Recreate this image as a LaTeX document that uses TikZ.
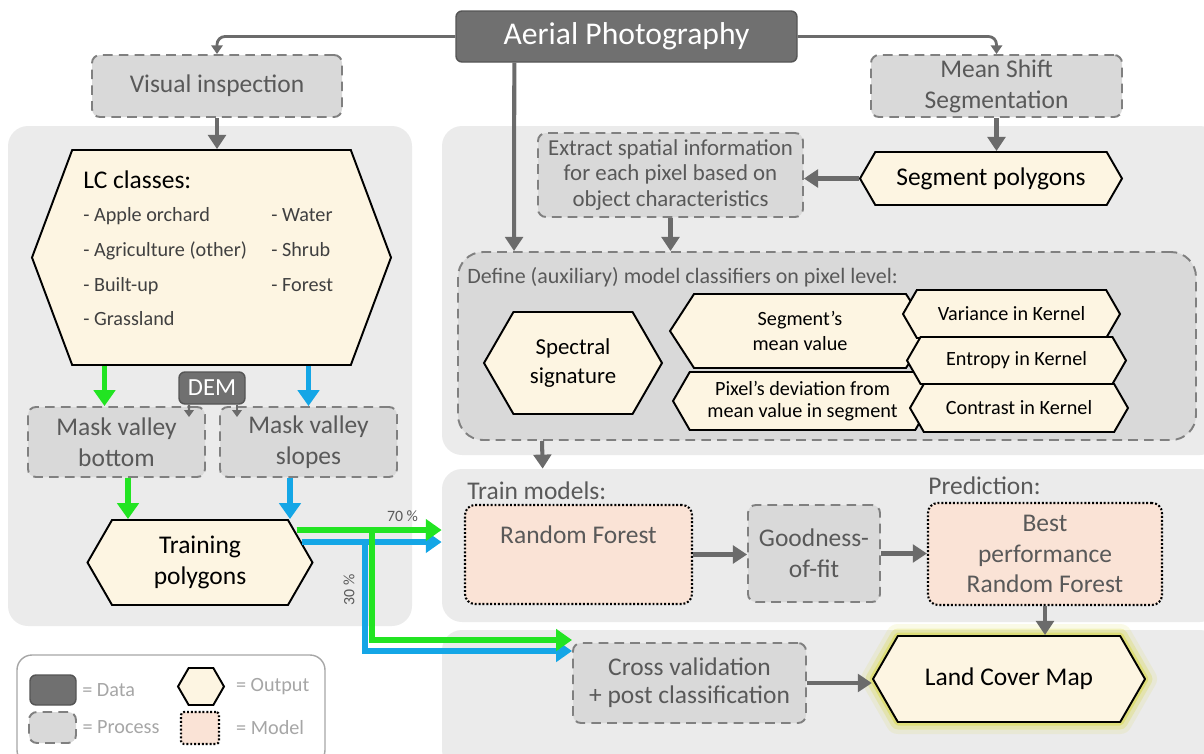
\documentclass[tikz,border=0pt]{standalone}
\usepackage{fontspec}
\setmainfont{Carlito}
\usepackage{xcolor}
\definecolor{colorPanel}{HTML}{EBEBEB}
\definecolor{colorProcess}{HTML}{D9D9D9}
\definecolor{colorProcessLine}{HTML}{808080}
\definecolor{colorData}{HTML}{707070}
\definecolor{colorDataLine}{HTML}{555555}
\definecolor{colorOutput}{HTML}{FDF5E2}
\definecolor{colorModel}{HTML}{FAE3D6}
\definecolor{colorArrow}{HTML}{6B6B6B}
\definecolor{colorText}{HTML}{595959}
\definecolor{colorItem}{HTML}{404040}
\definecolor{colorLegend}{HTML}{A6A6A6}
\definecolor{colorGreen}{RGB}{34,228,34}
\definecolor{colorBlue}{RGB}{20,166,230}
\definecolor{colorGlow}{HTML}{D8D83A}
\usepackage{tikz}
\usetikzlibrary{arrows.meta, shapes.symbols, positioning}
\newdimen\pxu \pxu=0.02cm
\tikzset{
  wh/.style 2 args={minimum width=#1\pxu, minimum height=#2\pxu},
  panel/.style={fill=colorPanel, rounded corners=20\pxu, inner sep=0pt},
  procbox/.style={draw=colorProcessLine, fill=colorProcess, dash pattern=on 5.5pt off 3.5pt, line width=1.1pt, rounded corners=8\pxu, text=colorText, align=center, inner sep=0pt, font=\fontsize{14.5}{17.5}\selectfont},
  databox/.style={draw=colorDataLine, fill=colorData, line width=0.8pt, rounded corners=6\pxu, text=white, align=center, inner sep=0pt},
  outhex/.style={signal, signal to=east and west, signal pointer angle=120, draw=black, line width=1.1pt, fill=colorOutput, align=center, inner sep=0pt, font=\fontsize{14.5}{17.5}\selectfont},
  modelbox/.style={draw=black, dash pattern=on 1.1pt off 1.1pt, line width=1.2pt, fill=colorModel, rounded corners=10\pxu, text=colorText, align=center, inner sep=0pt, font=\fontsize{14.5}{17.5}\selectfont},
  glow/.style={line join=round, preaction={draw=colorGlow, line width=24\pxu, opacity=0.12}, preaction={draw=colorGlow, line width=15\pxu, opacity=0.25}, preaction={draw=colorGlow, line width=7\pxu, opacity=0.45}},
  legtext/.style={text=colorLegend, inner sep=1pt, font=\fontsize{11.5}{14}\selectfont},
  flow/.style={draw=colorArrow, line width=2.3pt, -{Triangle[length=8pt, width=10pt]}},
  thinflow/.style={draw=colorArrow, line width=1.6pt, rounded corners=8\pxu, -{Triangle[length=5pt, width=6.5pt]}},
  demflow/.style={draw=colorArrow, line width=1.2pt, -{Triangle[length=4pt, width=5.5pt]}},
  gflow/.style={draw=colorGreen, line width=3.4pt, -{Triangle[length=9pt, width=12pt]}},
  bflow/.style={draw=colorBlue, line width=3.4pt, -{Triangle[length=9pt, width=12pt]}},
  pct/.style={text=colorText, inner sep=1pt, font=\fontsize{9}{10}\selectfont},
}

\begin{document}
\begin{tikzpicture}[x=0.02cm, y=-0.02cm]
\useasboundingbox (0,0) rectangle (1204,754);
\clip (0,0) rectangle (1204,754);
% background panels
\node[panel, wh={404}{500}] (panelL) at (210,376) {};
\node[panel, wh={778}{329}] (panelA) at (831,290.5) {};
\node[panel, wh={778}{153}] (panelB) at (831,545.5) {};
\node[panel, wh={778}{140}] (panelC) at (831,700) {};

% top row
\node[databox, wh={341}{51}, font=\fontsize{18}{21}\selectfont] (aerial) at (626.5,36.5) {Aerial Photography};
\node[procbox, wh={250}{62}] (visual) at (217,86) {Visual inspection};
\node[procbox, wh={251}{62}] (meanshift) at (996.5,86) {Mean Shift\\Segmentation};

% left column
\node[outhex, signal pointer angle=139, wh={359}{215}] (lcclasses) at (211.5,257.5) {};
\node[anchor=north west, inner sep=0pt, text=colorItem, font=\fontsize{11.5}{14}\selectfont] (lctext) at (83,170) {%
\begin{tabular}{@{}p{188\pxu}@{}l@{}}
\multicolumn{2}{@{}l}{\fontsize{14.5}{17}\selectfont\color{black}LC classes:}\\[5pt]
- Apple orchard & - Water\\[5.8pt]
- Agriculture (other) & - Shrub\\[5.8pt]
- Built-up & - Forest\\[5.8pt]
- Grassland &
\end{tabular}};
\node[databox, wh={66}{32}, font=\fontsize{14}{16}\selectfont] (dem) at (212,388) {DEM};
\node[procbox, wh={177}{70}] (maskbottom) at (116.5,442) {Mask valley\\bottom};
\node[procbox, wh={177}{70}] (maskslopes) at (308.5,442) {Mask valley\\slopes};
\node[outhex, wh={225}{85}] (training) at (200,562.5) {Training\\polygons};

% classifier panel
\node[procbox, wh={265}{84}, font=\fontsize{13}{14.3}\selectfont] (extract) at (670.5,175) {Extract spatial information\\for each pixel based on\\object characteristics};
\node[outhex, wh={262}{53}] (segpoly) at (991,178.5) {Segment polygons};
\node[procbox, wh={738}{188}, rounded corners=25\pxu] (define) at (827,346) {};
\node[anchor=base west, inner sep=0pt, text=colorText, font=\fontsize{12.5}{15}\selectfont] (definetext) at (467,283) {Define (auxiliary) model classifiers on pixel level:};
\node[outhex, wh={178}{102}, font=\fontsize{13}{17}\selectfont] (spectral) at (573,363) {Spectral\\signature};
\node[outhex, signal pointer angle=114, wh={260}{74}, font=\fontsize{11.5}{14}\selectfont] (segmean) at (800,331) {Segment’s\\mean value};
\node[outhex, wh={259}{58}, font=\fontsize{11.5}{12.5}\selectfont] (pixdev) at (802.5,401) {Pixel’s deviation from\\mean value in segment};
\node[outhex, wh={217}{48}, font=\fontsize{11.5}{14}\selectfont] (variance) at (1011.5,314) {Variance in Kernel};
\node[outhex, wh={219}{47}, font=\fontsize{11.5}{14}\selectfont] (entropy) at (1016.5,360.5) {Entropy in Kernel};
\node[outhex, wh={218}{48}, font=\fontsize{11.5}{14}\selectfont] (contrast) at (1019,408) {Contrast in Kernel};

% models
\node[anchor=base west, inner sep=0pt, text=colorText, font=\fontsize{14.5}{17}\selectfont] (trainlabel) at (467,499) {Train models:};
\node[anchor=base west, inner sep=0pt, text=colorText, font=\fontsize{14.5}{17}\selectfont] (predlabel) at (928,494) {Prediction:};
\node[modelbox, wh={227}{99}] (randomforest) at (578.5,554.5) {Random Forest\\\strut};
\node[procbox, wh={132}{97}] (goodness) at (814,553.5) {Goodness-\\of-fit};
\node[modelbox, wh={234}{102}] (bestperf) at (1045,554) {Best\\performance\\Random Forest};

% result
\node[procbox, wh={233}{80}, font=\fontsize{14.5}{16}\selectfont] (crossval) at (689.5,683) {Cross validation\\+ post classification};
\node[outhex, glow, wh={272}{86}] (landcover) at (1009,679) {Land Cover Map};

% legend
\node[draw=colorLegend, fill=white, line width=0.8pt, rounded corners=15\pxu, wh={308}{110}] (legend) at (171,710) {};
\node[databox, wh={46}{30}] (legdata) at (53,690) {};
\node[procbox, wh={47}{31}] (legproc) at (52.5,727.5) {};
\node[outhex, wh={46}{37}] (legout) at (201,686.5) {};
\node[modelbox, wh={38}{32}, rounded corners=3\pxu] (legmodel) at (200,728) {};
\node[legtext, right=2pt of legdata] (legdatatext) {= Data};
\node[legtext, right=2pt of legproc] (legproctext) {= Process};
\node[legtext, right=5pt of legout] (legouttext) {= Output};
\node[legtext, right=8pt of legmodel] (legmodeltext) {= Model};

% connectors
\draw[thinflow] (aerial.west) -| (visual.north);
\draw[thinflow] (aerial.east) -| (meanshift.north);
\draw[flow] ([xshift=59\pxu]aerial.south west) -- ([xshift=57\pxu]define.north west);
\draw[flow] (visual.south) -- (visual.south |- lcclasses.north);
\draw[flow] (meanshift.south) -- (meanshift.south |- segpoly.north);
\draw[flow] (segpoly.west) -- (segpoly.west -| extract.east);
\draw[flow] (extract.south) -- (extract.south |- define.north);
\draw[flow] ([xshift=85\pxu]define.south west) -- ([xshift=101\pxu]panelB.north west);
\draw[flow] (randomforest.east) -- (randomforest.east -| goodness.west);
\draw[flow] (goodness.east) -- (goodness.east -| bestperf.west);
\draw[flow] (bestperf.south) -- (bestperf.south |- landcover.north);
\draw[flow] (crossval.east) -- (crossval.east -| landcover.west);
\draw[demflow] ([xshift=-23\pxu]dem.south) -- ([xshift=72.5\pxu,yshift=-11\pxu]maskbottom.north);
\draw[demflow] ([xshift=25\pxu]dem.south) -- ([xshift=-71.5\pxu,yshift=-11\pxu]maskslopes.north);
\draw[gflow] ([xshift=-107\pxu]lcclasses.south) -- ([xshift=-12\pxu]maskbottom.north);
\draw[bflow] ([xshift=97\pxu]lcclasses.south) -- (maskslopes.north);
\draw[gflow] ([xshift=11.5\pxu]maskbottom.south) -- ([xshift=-72\pxu]training.north);
\draw[bflow] ([xshift=-18.5\pxu]maskslopes.south) -- ([xshift=90\pxu]training.north);
% 70 / 30 split
\draw[bflow] ([xshift=-12\pxu,yshift=20.5\pxu]training.east) coordinate (bstart) -- (bstart -| panelB.west);
\draw[bflow] (bstart) -- ++(63,0) |- node[pct, pos=0.22, rotate=90, anchor=south, inner sep=4pt] (pct30) {30 \%} ([yshift=32\pxu]crossval.west);
\draw[gflow] ([xshift=-17\pxu,yshift=32.5\pxu]training.east) coordinate (gstart) -- (gstart -| panelB.west) node[pct, pos=0.73, anchor=south, yshift=2pt] (pct70) {70 \%};
\draw[gflow] (gstart) -- ++(75,0) |- ([yshift=43\pxu]crossval.west);
\end{tikzpicture}
\end{document}
